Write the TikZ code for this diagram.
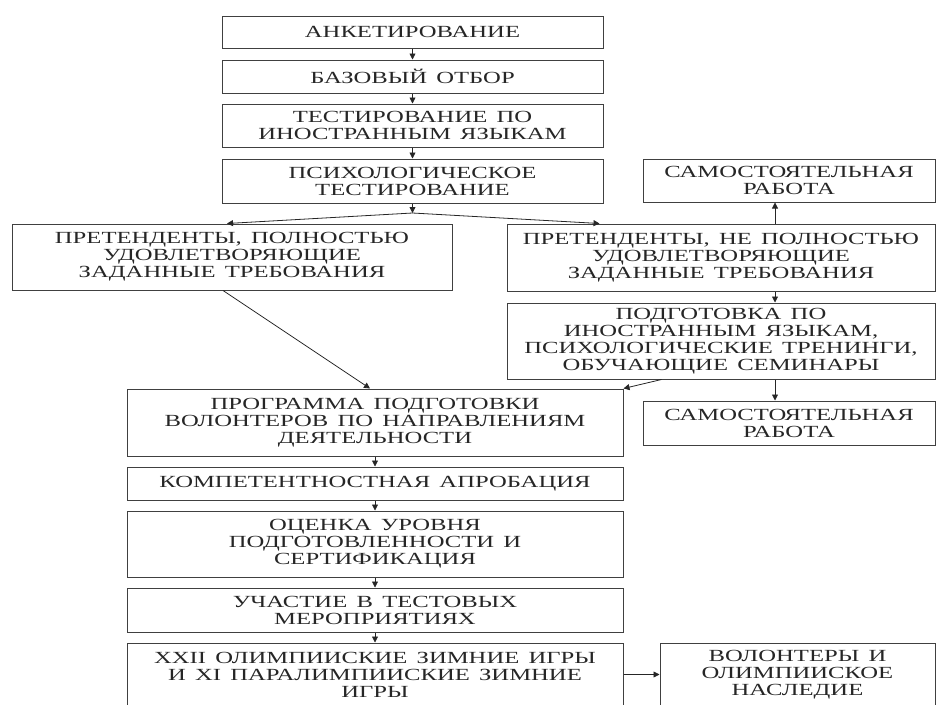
\documentclass[tikz,border=0pt]{standalone}
\usepackage{fontspec}
\setmainfont{Liberation Serif}[FakeStretch=1.45,WordSpace=1.5]
\usetikzlibrary{arrows.meta}
\tikzset{blk/.style={draw=black!75, line width=1pt, align=center, inner sep=0pt,
    text=black!85, font=\fontsize{17}{17}\selectfont},
  arr/.style={draw=black!85, line width=0.8pt, -{Triangle[length=6pt,width=6pt]}}}

\begin{document}
\begin{tikzpicture}[x=1pt,y=-1pt]
\useasboundingbox (0,0) rectangle (936,704);
% left column
\node[blk, minimum width=381pt, minimum height=32pt] (ank) at (412.5,32) {АНКЕТИРОВАНИЕ};
\node[blk, minimum width=381pt, minimum height=33pt] (baz) at (412.5,76.5) {БАЗОВЫЙ ОТБОР};
\node[blk, minimum width=381pt, minimum height=43pt] (tst) at (412.5,125.5) {ТЕСТИРОВАНИЕ ПО\\ИНОСТРАННЫМ ЯЗЫКАМ};
\node[blk, minimum width=381pt, minimum height=44pt] (psy) at (412.5,181) {ПСИХОЛОГИЧЕСКОЕ\\ТЕСТИРОВАНИЕ};
\node[blk, minimum width=292pt, minimum height=43pt] (sam1) at (789,180.5) {САМОСТОЯТЕЛЬНАЯ\\РАБОТА};
\node[blk, minimum width=440pt, minimum height=66pt] (lpr) at (232,257) {ПРЕТЕНДЕНТЫ, ПОЛНОСТЬЮ\\УДОВЛЕТВОРЯЮЩИЕ\\ЗАДАННЫЕ ТРЕБОВАНИЯ};
\node[blk, minimum width=428pt, minimum height=67pt] (rpr) at (721,257.5) {ПРЕТЕНДЕНТЫ, НЕ ПОЛНОСТЬЮ\\УДОВЛЕТВОРЯЮЩИЕ\\ЗАДАННЫЕ ТРЕБОВАНИЯ};
\node[blk, minimum width=428pt, minimum height=76pt] (pod) at (721,341) {ПОДГОТОВКА ПО\\ИНОСТРАННЫМ ЯЗЫКАМ,\\ПСИХОЛОГИЧЕСКИЕ ТРЕНИНГИ,\\ОБУЧАЮЩИЕ СЕМИНАРЫ};
\node[blk, minimum width=292pt, minimum height=44pt] (sam2) at (789,423) {САМОСТОЯТЕЛЬНАЯ\\РАБОТА};
\node[blk, minimum width=496pt, minimum height=67pt] (prg) at (375,422.5) {ПРОГРАММА ПОДГОТОВКИ\\ВОЛОНТЕРОВ ПО НАПРАВЛЕНИЯМ\\ДЕЯТЕЛЬНОСТИ};
\node[blk, minimum width=496pt, minimum height=33pt] (kom) at (375,483.5) {КОМПЕТЕНТНОСТНАЯ АПРОБАЦИЯ};
\node[blk, minimum width=496pt, minimum height=66pt] (otc) at (375,544) {ОЦЕНКА УРОВНЯ\\ПОДГОТОВЛЕННОСТИ И\\СЕРТИФИКАЦИЯ};
\node[blk, minimum width=496pt, minimum height=44pt] (uch) at (375,610) {УЧАСТИЕ В ТЕСТОВЫХ\\МЕРОПРИЯТИЯХ};
\node[blk, minimum width=496pt, minimum height=63pt] (xxii) at (375,674.5) {XXII ОЛИМПИИСКИЕ ЗИМНИЕ ИГРЫ\\И XI ПАРАЛИМПИИСКИЕ ЗИМНИЕ\\ИГРЫ};
\node[blk, minimum width=275pt, minimum height=63pt] (vol) at (797.5,674.5) {ВОЛОНТЕРЫ И\\ОЛИМПИИСКОЕ\\НАСЛЕДИЕ};
\coordinate (fork) at (412.5,213);
% arrows
\draw[arr] (ank) -- (baz);
\draw[arr] (baz) -- (tst);
\draw[arr] (tst) -- (psy);
\draw[arr] (psy) -- (fork);
\draw[arr] (fork) -- ([xshift=-5pt]lpr.north);
\draw[arr] (fork) -- ([xshift=93pt]rpr.north west);
\draw[arr] ([xshift=54pt]rpr.north) -- ([xshift=-14pt]sam1.south);
\draw[arr] ([xshift=54pt]rpr.south) -- ([xshift=54pt]pod.north);
\draw[arr] ([xshift=54pt]pod.south) -- ([xshift=-14pt]sam2.north);
\draw[arr] ([xshift=-9pt]lpr.south) -- ([xshift=-5pt]prg.north);
\draw[arr] ([xshift=155pt]pod.south west) -- (prg.north east);
\draw[arr] (prg) -- (kom);
\draw[arr] (kom) -- (otc);
\draw[arr] (otc) -- (uch);
\draw[arr] (uch) -- (xxii);
\draw[arr] (xxii) -- (vol);
\end{tikzpicture}
\end{document}
